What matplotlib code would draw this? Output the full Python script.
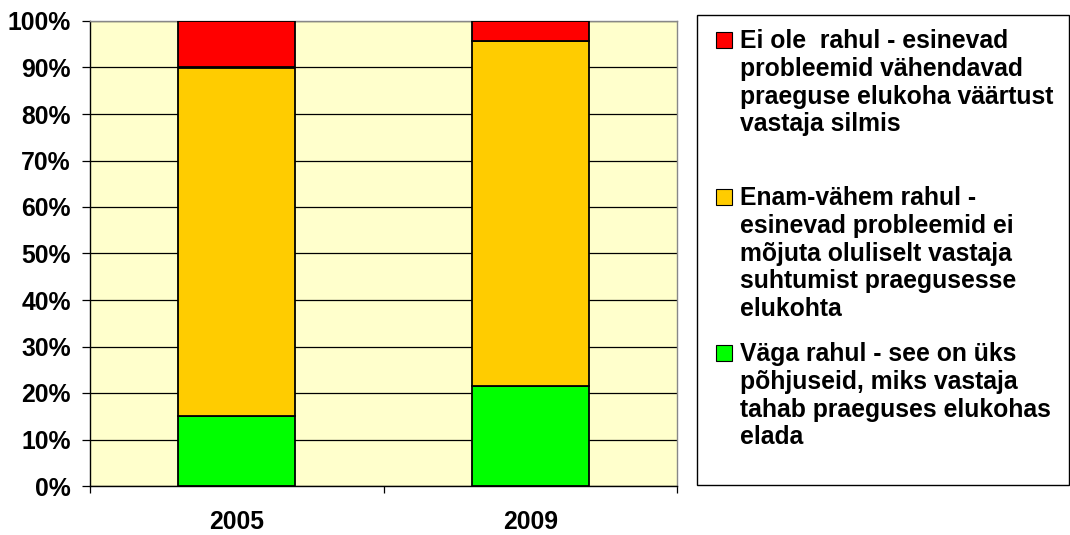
import numpy as np
import matplotlib
matplotlib.use('Agg')
import matplotlib.pyplot as plt
from matplotlib.patches import Rectangle

# data (percent of respondents)
years = ['2005', '2009']
vaga_rahul = [15.0, 21.4]
enam_vahem = [75.0, 74.3]
ei_ole = [10.0, 4.3]

labels = [
    'Ei ole  rahul - esinevad\nprobleemid vähendavad\npraeguse elukoha väärtust\nvastaja silmis',
    'Enam-vähem rahul -\nesinevad probleemid ei\nmõjuta oluliselt vastaja\nsuhtumist praegusesse\nelukohta',
    'Väga rahul - see on üks\npõhjuseid, miks vastaja\ntahab praeguses elukohas\nelada',
]
colors = ['#FF0000', '#FFCC00', '#00FF00']

plt.rcParams['font.family'] = ['Liberation Sans', 'DejaVu Sans']
plt.rcParams['font.weight'] = 'bold'

W, H = 1070, 535
fs = 17.8
fig = plt.figure(figsize=(W / 100, H / 100), dpi=100)
ax = fig.add_axes([90 / W, (H - 486) / H, (677 - 90) / W, (486 - 21) / H])
ax.set_facecolor('#FFFFCC')

x = np.arange(len(years))
bottom2 = np.array(vaga_rahul) + np.array(enam_vahem)
ax.bar(x, vaga_rahul, 0.4, color=colors[2], edgecolor='black', lw=1.3, zorder=3)
ax.bar(x, enam_vahem, 0.4, bottom=vaga_rahul, color=colors[1], edgecolor='black', lw=1.3, zorder=3)
ax.bar(x, ei_ole, 0.4, bottom=bottom2, color=colors[0], edgecolor='black', lw=1.3, zorder=3)

ax.set_xlim(-0.5, 1.5)
ax.set_ylim(0, 100)
ax.set_yticks(np.arange(0, 101, 10))
ax.set_yticklabels(['%d%%' % v for v in range(0, 101, 10)], fontsize=fs, fontweight='bold')
ax.yaxis.grid(True, color='black', lw=0.9, zorder=1)
ax.set_xticks([-0.5, 0.5, 1.5])
ax.set_xticklabels([])
ax.set_xticks(x, minor=True)
ax.set_xticklabels(years, minor=True, fontsize=fs, fontweight='bold')
ax.tick_params(axis='x', which='minor', length=0, pad=17)
ax.tick_params(axis='x', which='major', length=5, width=0.9, direction='out')
ax.tick_params(axis='y', length=5.8, width=0.9, direction='out', pad=8)

ax.spines['left'].set_color('black')
ax.spines['bottom'].set_color('black')
ax.spines['top'].set_color('#888888')
ax.spines['right'].set_color('#888888')
for s in ax.spines.values():
    s.set_linewidth(1.0)

# legend box drawn by hand to keep Excel-like spacing
fig.patches.append(Rectangle((697 / W, (H - 485) / H), (1069 - 697) / W, (485 - 15) / H,
                             transform=fig.transFigure, fill=False, edgecolor='black', lw=1.0))
slot_tops = [40, 197, 353]
for lab, col, yc in zip(labels, colors, slot_tops):
    fig.patches.append(Rectangle((716 / W, (H - yc - 8) / H), 16 / W, 16 / H,
                                 transform=fig.transFigure, facecolor=col, edgecolor='black', lw=0.8))
    fig.text(740 / W, (H - yc + 11) / H, lab, fontsize=fs, fontweight='bold',
             va='top', ha='left', linespacing=1.2)

fig.savefig('out.png', dpi=100)
